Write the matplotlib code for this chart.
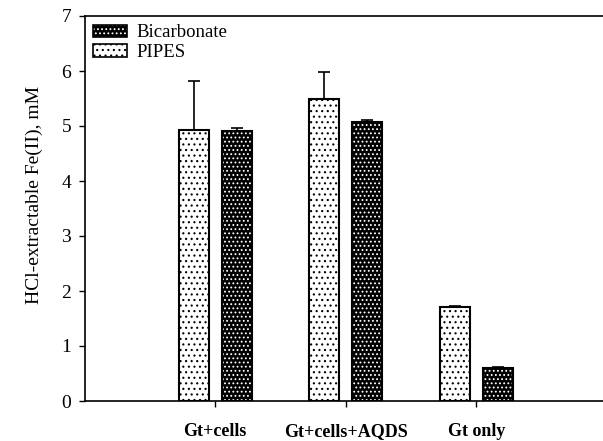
import matplotlib
matplotlib.use("Agg")
import matplotlib.pyplot as plt
from matplotlib.patches import Patch
from matplotlib.legend_handler import HandlerTuple
import numpy as np

categories = ["Gt+cells", "Gt+cells+AQDS", "Gt only"]
pipes = [4.92, 5.50, 1.71]
pipes_err = [0.89, 0.49, 0.02]
bicarb = [4.91, 5.07, 0.60]
bicarb_err = [0.05, 0.04, 0.01]
yticks = [0, 1, 2, 3, 4, 5, 6, 7]

plt.rcParams['font.family'] = ['Liberation Serif', 'DejaVu Serif']
plt.rcParams['hatch.linewidth'] = 0.8

fig = plt.figure(figsize=(6.03, 4.41), dpi=100)
ax = fig.add_axes([85/603, 40/441, 1 - 85/603, (401-16)/441])

x = np.arange(len(categories))
off = 0.165
w = 0.23

# PIPES: white with black dots
ax.bar(x - off, pipes, w, facecolor='white', edgecolor='black', hatch='...', linewidth=0, zorder=2)
ax.bar(x - off, pipes, w, fill=False, edgecolor='black', linewidth=1.5, zorder=3)
ax.errorbar(x - off, pipes, yerr=[np.zeros(3), pipes_err], fmt='none', ecolor='black',
            elinewidth=1.2, capsize=4.3, capthick=1.2, zorder=1)

# Bicarbonate: black with white dots
ax.bar(x + off, bicarb, w, facecolor='black', edgecolor='white', hatch='....', linewidth=0, zorder=2)
ax.bar(x + off, bicarb, w, fill=False, edgecolor='black', linewidth=1.5, zorder=3)
ax.errorbar(x + off, bicarb, yerr=[np.zeros(3), bicarb_err], fmt='none', ecolor='black',
            elinewidth=1.2, capsize=4.3, capthick=1.2, zorder=1)

ax.set_xlim(-0.996, 2.97)
ax.set_ylim(0, 7)
ax.set_yticks(yticks)
ax.set_xticks(x)
ax.set_xticklabels(categories, fontsize=13, fontweight='bold')
ax.tick_params(axis='y', labelsize=14, direction='out', length=4, width=1, pad=6)
ax.tick_params(axis='x', direction='out', length=4, width=1, pad=12)
ax.spines['right'].set_visible(False)
for s in ['left', 'top', 'bottom']:
    ax.spines[s].set_linewidth(1.2)
ax.set_ylabel("HCl-extractable Fe(II), mM", fontsize=14)
ax.yaxis.set_label_coords(-0.082, 0.536)

h_b = (Patch(facecolor='black', edgecolor='white', hatch='....', linewidth=0),
       Patch(fill=False, edgecolor='black', linewidth=1.2))
h_p = (Patch(facecolor='white', edgecolor='black', hatch='...', linewidth=0),
       Patch(fill=False, edgecolor='black', linewidth=1.2))
ax.legend([h_b, h_p], ["Bicarbonate", "PIPES"], handler_map={tuple: HandlerTuple(ndivide=1)},
          loc='upper left', frameon=False, fontsize=13.5, handlelength=1.8, handleheight=0.65,
          handletextpad=0.5, labelspacing=0.15, borderaxespad=0.2, borderpad=0.25)

fig.savefig("out.png", dpi=100)
